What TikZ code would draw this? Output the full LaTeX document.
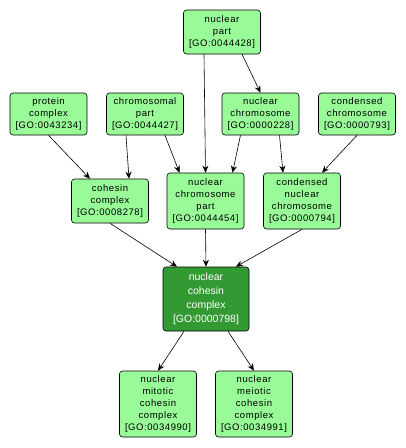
\documentclass[tikz,border=0pt]{standalone}
\usepackage{fontspec}
\setmainfont{Liberation Sans}[LetterSpace=6]
\newfontfamily\hitfont{Liberation Sans}
\usetikzlibrary{arrows.meta}
\definecolor{termfill}{RGB}{152,251,152}
\definecolor{hitfill}{RGB}{51,153,51}

\begin{document}
\begin{tikzpicture}[x=1pt,y=-1pt,
		font=\fontsize{9.5}{12}\selectfont,
		every node/.style={
			draw,rounded corners=3pt,align=center,inner sep=0pt,line width=0.6pt,
			minimum width=77pt,fill=termfill
		},
		goterm/.style={minimum height=#1},
		hit/.style={fill=hitfill,text=white,font=\hitfont\fontsize{10.5}{14}\selectfont},
		isa/.style={-{Stealth[length=7pt,width=6pt]},semithick}
		]
		\useasboundingbox[fill=white] (0,0) rectangle (406,448);
		% top
		\node[goterm=44pt] (np) at (222,32) {nuclear\\part\\{[GO:0044428]}};
		% row 2
		\node[goterm=42pt] (pc) at (48.5,114) {protein\\complex\\{[GO:0043234]}};
		\node[goterm=42pt] (cp) at (145,114) {chromosomal\\part\\{[GO:0044427]}};
		\node[goterm=42pt] (nc) at (260.5,114) {nuclear\\chromosome\\{[GO:0000228]}};
		\node[goterm=42pt] (cch) at (357,114) {condensed\\chromosome\\{[GO:0000793]}};
		% row 3
		\node[goterm=44pt] (cc) at (110,201) {cohesin\\complex\\{[GO:0008278]}};
		\node[goterm=56pt] (ncp) at (205.5,201) {nuclear\\chromosome\\part\\{[GO:0044454]}};
		\node[goterm=56pt] (cnc) at (302,201) {condensed\\nuclear\\chromosome\\{[GO:0000794]}};
		% term of interest
		\node[goterm=64pt,hit,minimum width=86pt] (ncc) at (206,299) {nuclear\\cohesin\\complex\\{[GO:0000798]}};
		% children
		\node[goterm=66pt] (mit) at (158,404) {nuclear\\mitotic\\cohesin\\complex\\{[GO:0034990]}};
		\node[goterm=66pt] (mei) at (254,404) {nuclear\\meiotic\\cohesin\\complex\\{[GO:0034991]}};

		\draw[isa] ([xshift=-18pt]np.south) -- (ncp.north);
		\draw[isa] ([xshift=20pt]np.south) -- (nc.north);
		\draw[isa] (pc.south) -- ([xshift=-20pt]cc.north);
		\draw[isa] ([xshift=-19pt]cp.south) -- ([xshift=19pt]cc.north);
		\draw[isa] ([xshift=20pt]cp.south) -- ([xshift=-26pt]ncp.north);
		\draw[isa] ([xshift=-20pt]nc.south) -- ([xshift=27pt]ncp.north);
		\draw[isa] ([xshift=19pt]nc.south) -- ([xshift=-19pt]cnc.north);
		\draw[isa] (cch.south) -- ([xshift=20pt]cnc.north);
		\draw[isa] (cc.south) -- ([xshift=-29pt]ncc.north);
		\draw[isa] (ncp.south) -- (ncc.north);
		\draw[isa] (cnc.south) -- ([xshift=30pt]ncc.north);
		\draw[isa] ([xshift=-22pt]ncc.south) -- (mit.north);
		\draw[isa] ([xshift=22pt]ncc.south) -- (mei.north);
\end{tikzpicture}
\end{document}
